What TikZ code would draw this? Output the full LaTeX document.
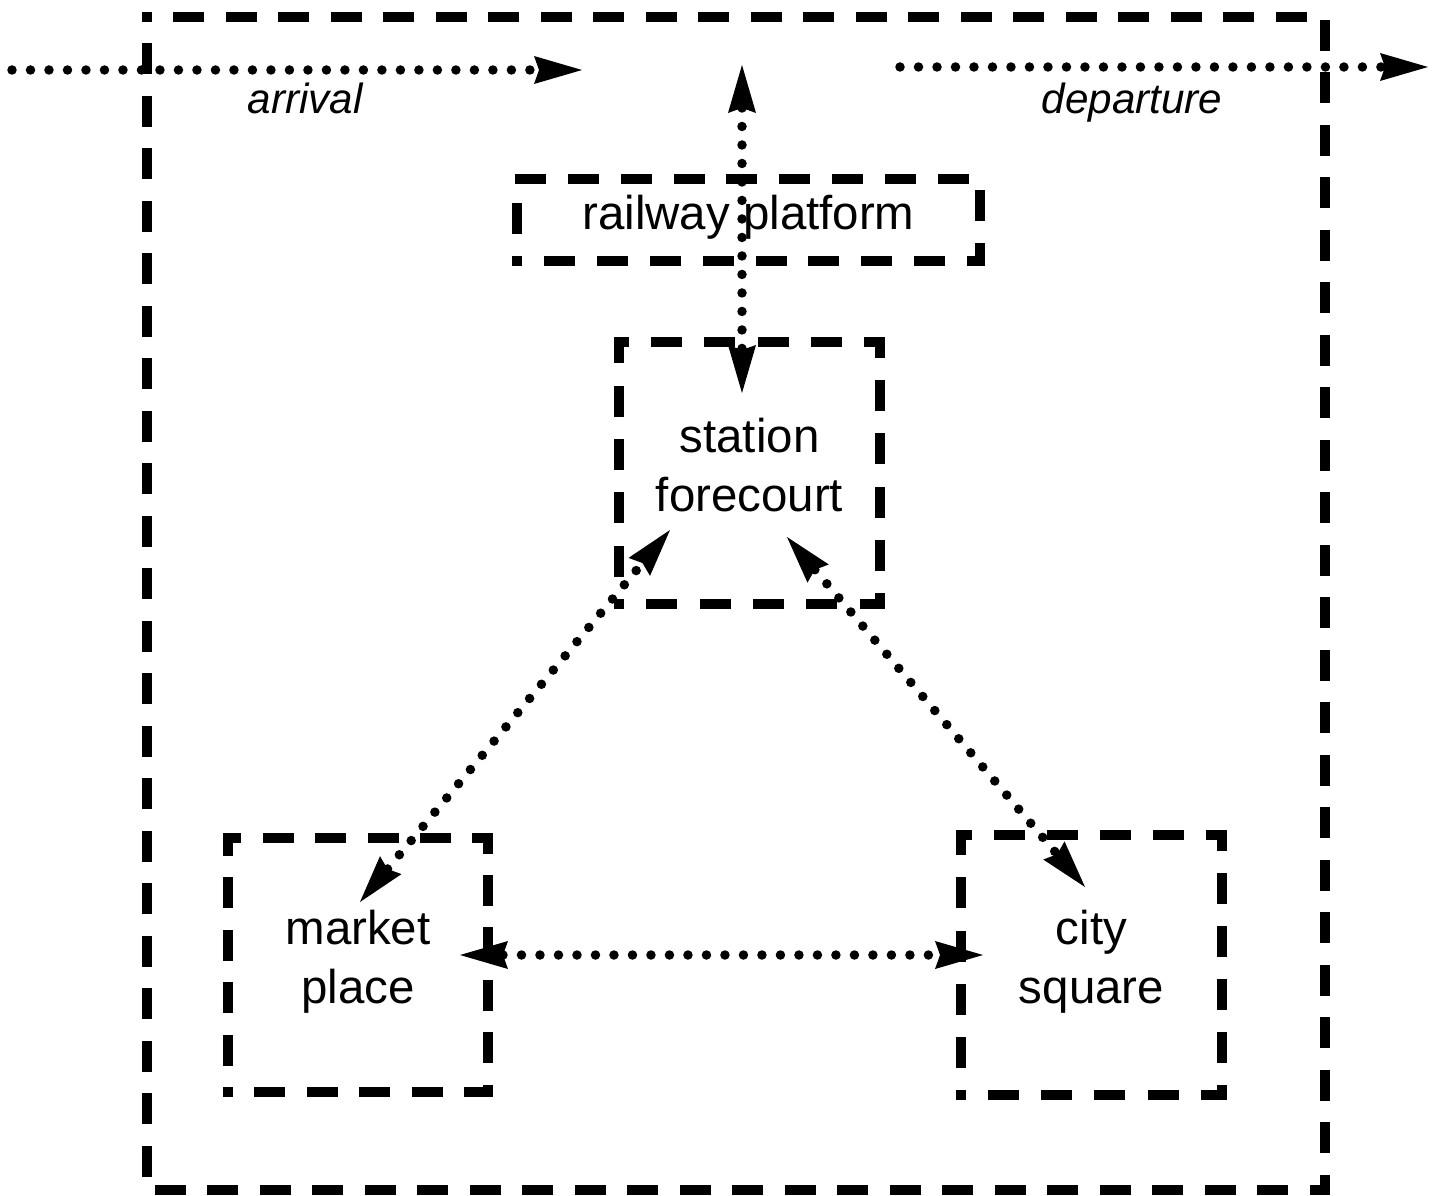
\documentclass[tikz,border=0pt]{standalone}
\usepackage{fontspec}
\setmainfont{Liberation Sans}
\usetikzlibrary{arrows.meta, decorations}

\begin{document}
\begin{tikzpicture}[x=0.02cm, y=-0.02cm,
	frame/.style={draw, line width=0.2cm, line cap=rect, dash pattern=on 0.42cm off 0.62cm, dash expand off},
	area/.style={frame, align=center, inner sep=0pt, text depth=0.9em, font=\fontsize{27}{33.5}\selectfont},
	walk/.style={line width=0.19cm, line cap=round, dash pattern=on 0pt off 0.37cm,
		>={Stealth[length=0.96cm, width=0.56cm, inset=0.1cm, line width=0pt]}},
	tag/.style={font=\fontsize{24}{29}\selectfont\itshape, anchor=base}]

\useasboundingbox (0,0) rectangle (1433,1196);

%\draw[step=100, gray!40] (0,0) grid (1433,1196);

% the station area
\draw[frame] (147,17) rectangle (1325,1190);

\node[area, minimum width=9.26cm, minimum height=1.64cm] (platform) at (748.5,220) {railway platform};
\node[area, minimum width=5.22cm, minimum height=5.24cm] (forecourt) at (749.5,473) {station\\forecourt};
\node[area, minimum width=5.2cm, minimum height=5.08cm] (market) at (358,965) {market\\place};
\node[area, minimum width=5.22cm, minimum height=5.2cm] (square) at (1091.5,965) {city\\square};

% train in and out
\coordinate (arr-a) at (12,70);
\coordinate (arr-b) at (582,70);
\coordinate (dep-a) at (900,67);
\coordinate (dep-b) at (1428,67);
\coordinate (tracks) at (742,65);

\draw[walk, ->] (arr-a) -- (arr-b);
\draw[walk, ->] (dep-a) -- (dep-b);
\node[tag] (arrival) at (305,114) {arrival};
\node[tag] (departure) at (1132,114) {departure};

% walking routes
\draw[walk, <->] (tracks) -- ([shift={(-7.5,-80)}]forecourt.center);
\draw[walk, <->] ([shift={(2,-63)}]market.center) -- ([shift={(-79.5,57)}]forecourt.center);
\draw[walk, <->] ([shift={(37.5,64)}]forecourt.center) -- ([shift={(-6.5,-78)}]square.center);
\draw[walk, <->] ([shift={(102,-10)}]market.center) -- ([shift={(-108.5,-10)}]square.center);

\end{tikzpicture}
\end{document}
